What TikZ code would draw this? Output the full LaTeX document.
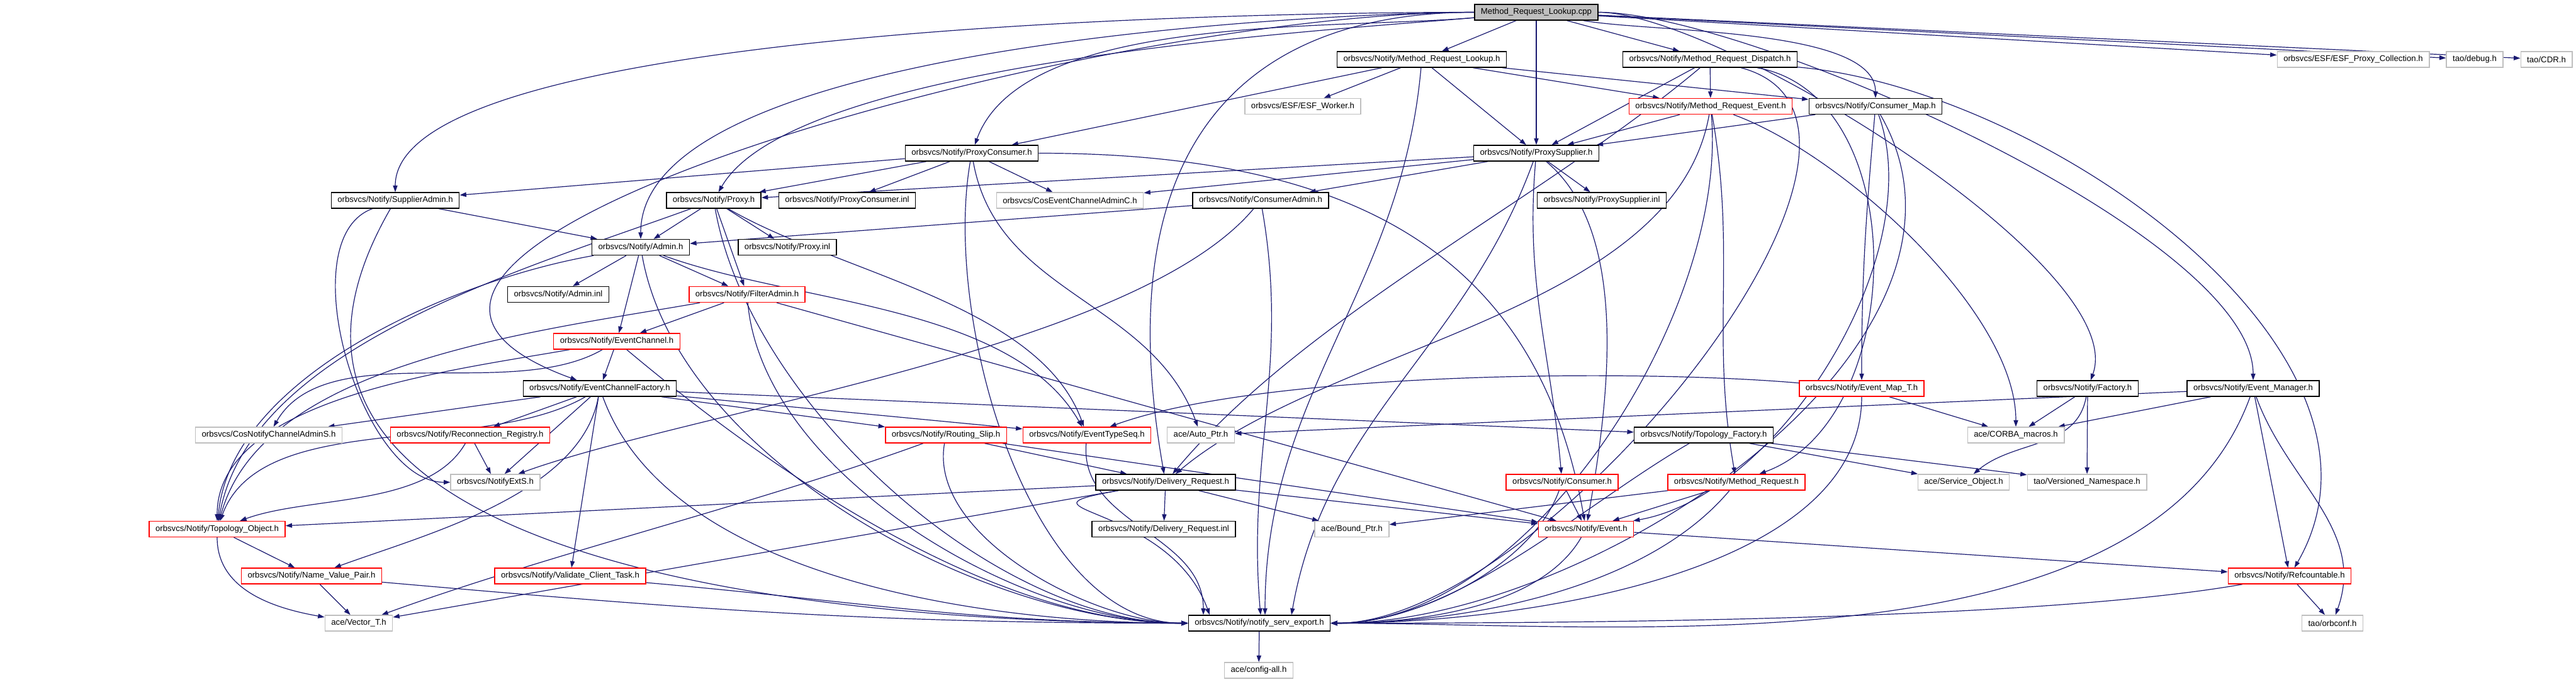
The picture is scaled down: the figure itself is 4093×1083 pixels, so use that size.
\documentclass[tikz,border=0pt]{standalone}
\usepackage{fontspec}
\setmainfont{Liberation Sans}
\usetikzlibrary{arrows.meta}
\definecolor{edgeblue}{RGB}{25,25,112}
\definecolor{extgray}{RGB}{191,191,191}
\pgfdeclarelayer{edges}
\pgfsetlayers{edges,main}

\begin{document}
\begin{tikzpicture}[x=0.25pt,y=0.25pt,
    file/.style={draw=black, fill=white, line width=0.36pt, rectangle, minimum height=6.25pt, inner xsep=2.5pt, inner ysep=0pt, font=\fontsize{3.3}{3.8}\selectfont},
    trunc/.style={file, draw=red},
    ext/.style={file, draw=extgray},
    rootfile/.style={file, fill=extgray},
    dep/.style={draw=edgeblue, line width=0.3pt, -{Triangle[length=2.6pt,width=1.8pt]}}]
          \useasboundingbox (0,0) rectangle (4093,-1083);

          % Archivos
          \node[rootfile] (root) at (2441,-19.5) {Method\_Request\_Lookup.cpp};
          \node[file] (mrl) at (2259,-94.5) {orbsvcs/Notify/Method\_Request\_Lookup.h};
          \node[file] (mrd) at (2717,-94.5) {orbsvcs/Notify/Method\_Request\_Dispatch.h};
          \node[ext] (esfpc) at (3739,-94.5) {orbsvcs/ESF/ESF\_Proxy\_Collection.h};
          \node[ext] (dbg) at (3932,-94.5) {tao/debug.h};
          \node[ext] (cdr) at (4046,-94.5) {tao/CDR.h};
          \node[ext] (esfw) at (2070,-169) {orbsvcs/ESF/ESF\_Worker.h};
          \node[trunc] (mrev) at (2718,-169) {orbsvcs/Notify/Method\_Request\_Event.h};
          \node[file] (cmap) at (2980,-169) {orbsvcs/Notify/Consumer\_Map.h};
          \node[file] (pcons) at (1544,-243.5) {orbsvcs/Notify/ProxyConsumer.h};
          \node[file] (psup) at (2441,-243.5) {orbsvcs/Notify/ProxySupplier.h};
          \node[file] (sadm) at (628,-318.5) {orbsvcs/Notify/SupplierAdmin.h};
          \node[file] (proxy) at (1134,-318.5) {orbsvcs/Notify/Proxy.h};
          \node[file] (pconsinl) at (1346,-318.5) {orbsvcs/Notify/ProxyConsumer.inl};
          \node[ext] (cosecac) at (1700,-318.5) {orbsvcs/CosEventChannelAdminC.h};
          \node[file] (cadm) at (2003,-318.5) {orbsvcs/Notify/ConsumerAdmin.h};
          \node[file] (psupinl) at (2545,-318.5) {orbsvcs/Notify/ProxySupplier.inl};
          \node[file] (admin) at (1018,-393) {orbsvcs/Notify/Admin.h};
          \node[file] (proxyinl) at (1251,-393) {orbsvcs/Notify/Proxy.inl};
          \node[file] (admininl) at (887,-468) {orbsvcs/Notify/Admin.inl};
          \node[trunc] (fadm) at (1187,-468) {orbsvcs/Notify/FilterAdmin.h};
          \node[trunc] (ec) at (980,-542.5) {orbsvcs/Notify/EventChannel.h};
          \node[file] (ecf) at (953,-617.5) {orbsvcs/Notify/EventChannelFactory.h};
          \node[trunc] (emapt) at (2958,-617.5) {orbsvcs/Notify/Event\_Map\_T.h};
          \node[file] (factory) at (3317,-617.5) {orbsvcs/Notify/Factory.h};
          \node[file] (emgr) at (3580,-617.5) {orbsvcs/Notify/Event\_Manager.h};
          \node[ext] (cosncas) at (427,-691.5) {orbsvcs/CosNotifyChannelAdminS.h};
          \node[trunc] (recreg) at (747,-691.5) {orbsvcs/Notify/Reconnection\_Registry.h};
          \node[trunc] (rslip) at (1503,-691.5) {orbsvcs/Notify/Routing\_Slip.h};
          \node[trunc] (etseq) at (1727,-691.5) {orbsvcs/Notify/EventTypeSeq.h};
          \node[ext] (autoptr) at (1908,-691.5) {ace/Auto\_Ptr.h};
          \node[file] (topof) at (2707,-691.5) {orbsvcs/Notify/Topology\_Factory.h};
          \node[ext] (corbam) at (3203,-691.5) {ace/CORBA\_macros.h};
          \node[ext] (nexts) at (787,-766.5) {orbsvcs/NotifyExtS.h};
          \node[file] (dreq) at (1852,-766.5) {orbsvcs/Notify/Delivery\_Request.h};
          \node[trunc] (consumer) at (2482,-766.5) {orbsvcs/Notify/Consumer.h};
          \node[trunc] (mreq) at (2759,-766.5) {orbsvcs/Notify/Method\_Request.h};
          \node[ext] (svcobj) at (3120,-766.5) {ace/Service\_Object.h};
          \node[ext] (vns) at (3316,-766.5) {tao/Versioned\_Namespace.h};
          \node[trunc] (topoobj) at (345,-841) {orbsvcs/Notify/Topology\_Object.h};
          \node[file] (dreqinl) at (1849,-841) {orbsvcs/Notify/Delivery\_Request.inl};
          \node[ext] (boundptr) at (2148,-841) {ace/Bound\_Ptr.h};
          \node[trunc] (event) at (2520,-841) {orbsvcs/Notify/Event.h};
          \node[trunc] (nvp) at (495,-915.5) {orbsvcs/Notify/Name\_Value\_Pair.h};
          \node[trunc] (vct) at (906,-915.5) {orbsvcs/Notify/Validate\_Client\_Task.h};
          \node[trunc] (refc) at (3638,-915.5) {orbsvcs/Notify/Refcountable.h};
          \node[ext] (vect) at (570,-990.5) {ace/Vector\_T.h};
          \node[file] (nse) at (2001,-990.5) {orbsvcs/Notify/notify\_serv\_export.h};
          \node[ext] (orbconf) at (3706,-990.5) {tao/orbconf.h};
          \node[ext] (cfg) at (2000,-1065.5) {ace/config-all.h};

          % Inclusiones
          \begin{pgfonlayer}{edges}
          \draw[dep] (root) -- (mrl);
          \draw[dep] (root) -- (mrd);
          \draw[dep] (root) -- (psup);
          \draw[dep] (root) to[out=-10,in=90,looseness=0.6] (cmap);
          \draw[dep] (root) -- (esfpc);
          \draw[dep] (root) -- (dbg);
          \draw[dep] (root) -- (cdr);
          \draw[dep] (root) to[out=0,in=90,looseness=0.5] (emgr);
          \draw[dep] (root) to[out=0,in=70,looseness=0.5] (factory);
          \draw[dep] (root) to[out=185,in=70,looseness=0.7] (pcons);
          \draw[dep] (root) to[out=185,in=60,looseness=0.5] (proxy);
          \draw[dep] (root) to[out=180,in=90,out looseness=0.3,in looseness=0.6] (admin);
          \draw[dep] (root) to[out=180,in=90,looseness=0.4] (sadm);
          \draw[dep] (root) to[out=180,in=160,looseness=1] (ecf);
          \draw[dep] (root) to[out=180,in=100,out looseness=1,in looseness=1.6] (dreq);

          \draw[dep] (mrl) -- (esfw);
          \draw[dep] (mrl) -- (psup);
          \draw[dep] (mrl) -- (mrev);
          \draw[dep] (mrl) -- (cmap);
          \draw[dep] (mrl) -- (pcons);
          \draw[dep] (mrl) to[out=-95,in=90] ([xshift=2.25pt]nse.north);

          \draw[dep] (mrd) -- (psup);
          \draw[dep] (mrd) -- (mrev);
          \draw[dep] (mrd) to[out=-140,in=50,looseness=0.8] (dreq);
          \draw[dep] (mrd) to[out=-5,in=60,looseness=0.9] (refc);
          \draw[dep] (mrd) to[out=-10,in=20,looseness=1] (mreq);
          \draw[dep] (mrd) to[out=-15,in=0,looseness=0.8] (nse);

          \draw[dep] (mrev) -- (psup);
          \draw[dep] (mrev) to[out=-100,in=40,looseness=0.8] (dreq);
          \draw[dep] (mrev) to[out=-80,in=100] (mreq);
          \draw[dep] (mrev) to[out=-20,in=90,looseness=0.7] (corbam);
          \draw[dep] (mrev) to[out=-85,in=0,looseness=0.8] (nse);

          \draw[dep] (cmap) -- (psup);
          \draw[dep] (cmap) to[out=-95,in=90] (emapt);
          \draw[dep] (cmap) to[out=-70,in=10,looseness=0.8] (event);
          \draw[dep] (cmap) to[out=-60,in=0,looseness=0.9] (nse);

          \draw[dep] (pcons) -- (sadm);
          \draw[dep] (pcons) -- (proxy);
          \draw[dep] (pcons) -- (pconsinl);
          \draw[dep] (pcons) -- (cosecac);
          \draw[dep] (pcons) to[out=-80,in=110] (autoptr);
          \draw[dep] (pcons) to[out=0,in=100,out looseness=1.3,in looseness=1] (event);
          \draw[dep] (pcons) to[out=-100,in=180,looseness=0.8] (nse);

          \draw[dep] (psup) -- (proxy);
          \draw[dep] (psup) -- (cosecac);
          \draw[dep] (psup) -- (cadm);
          \draw[dep] (psup) -- (psupinl);
          \draw[dep] (psup) to[out=-95,in=95] (consumer);
          \draw[dep] (psup) to[out=-40,in=80,looseness=0.8] (event);
          \draw[dep] (psup) to[out=-110,in=80] ([xshift=12.75pt]nse.north);

          \draw[dep] (sadm) -- (admin);
          \draw[dep] (sadm) to[out=-160,in=180,looseness=0.8] (nexts);
          \draw[dep] (sadm) to[out=-120,in=180,out looseness=1.3,in looseness=0.6] (nse);

          \draw[dep] (cadm) -- (admin);
          \draw[dep] (cadm) to[out=-130,in=20,looseness=0.6] (nexts);
          \draw[dep] (cadm) to[out=-80,in=95] ([xshift=0.5pt]nse.north);

          \draw[dep] (proxy) -- (admin);
          \draw[dep] (proxy) -- (proxyinl);
          \draw[dep] (proxy) -- (fadm);
          \draw[dep] (proxy) to[out=-160,in=80,looseness=0.8] (topoobj);
          \draw[dep] (proxy) to[out=-30,in=110,looseness=0.8] (etseq);
          \draw[dep] (proxy) to[out=-80,in=180,looseness=0.8] (nse);

          \draw[dep] (admin) -- (admininl);
          \draw[dep] (admin) -- (ec);
          \draw[dep] (admin) -- (fadm);
          \draw[dep] (admin) to[out=-170,in=85,looseness=0.8] (topoobj);
          \draw[dep] (admin) to[out=-20,in=120,looseness=0.8] (etseq);
          \draw[dep] (admin) to[out=-80,in=180,looseness=0.8] (nse);

          \draw[dep] (fadm) -- (ec);
          \draw[dep] (fadm) to[out=-170,in=75,looseness=0.8] (topoobj);
          \draw[dep] (fadm) -- (event);
          \draw[dep] (fadm) to[out=-85,in=180,looseness=0.8] (nse);

          \draw[dep] (ec) -- (ecf);
          \draw[dep] (ec) to[out=-150,in=60,looseness=0.8] (cosncas);
          \draw[dep] (ec) to[out=-170,in=90,looseness=0.8] (topoobj);
          \draw[dep] (ec) to[out=-40,in=180,looseness=0.8] (nse);

          \draw[dep] (ecf) -- (cosncas);
          \draw[dep] (ecf) -- (recreg);
          \draw[dep] (ecf) -- (nexts);
          \draw[dep] (ecf) to[out=-150,in=70,looseness=0.8] (topoobj);
          \draw[dep] (ecf) to[out=-100,in=20,looseness=0.8] (nvp);
          \draw[dep] (ecf) -- (vct);
          \draw[dep] (ecf) -- (rslip);
          \draw[dep] (ecf) -- (etseq);
          \draw[dep] (ecf) -- (topof);
          \draw[dep] (ecf) to[out=-70,in=180,looseness=0.8] (nse);

          \draw[dep] (recreg) -- (nexts);
          \draw[dep] (recreg) to[out=-120,in=20,looseness=0.8] (topoobj);

          \draw[dep] (topoobj) -- (nvp);
          \draw[dep] (topoobj) to[out=-90,in=170] (vect);
          \draw[dep] (nvp) -- (vect);
          \draw[dep] (nvp) to[out=-5,in=180] (nse);
          \draw[dep] (vct) to[out=-5,in=180] (nse);

          \draw[dep] (rslip) -- (dreq);
          \draw[dep] (rslip) -- (event);
          \draw[dep] (rslip) to[out=-160,in=20,looseness=0.8] (vect);
          \draw[dep] (rslip) to[out=-100,in=180,looseness=0.8] (nse);
          \draw[dep] (etseq) to[out=-95,in=90] ([xshift=-22.25pt]nse.north);

          \draw[dep] (dreq) -- (dreqinl);
          \draw[dep] (dreq) -- (boundptr);
          \draw[dep] (dreq) -- (event);
          \draw[dep] (dreq) -- (topoobj);
          \draw[dep] (dreq) -- (vect);
          \draw[dep] (dreq) to[out=-170,in=110,looseness=2] ([xshift=-19.75pt]nse.north);

          \draw[dep] (consumer) -- (event);
          \draw[dep] (consumer) to[out=-110,in=0,looseness=0.8] (nse);
          \draw[dep] (mreq) -- (event);
          \draw[dep] (mreq) -- (boundptr);
          \draw[dep] (mreq) to[out=-130,in=0,looseness=0.8] (nse);
          \draw[dep] (event) -- (refc);
          \draw[dep] (event) to[out=-120,in=0,looseness=0.8] (nse);

          \draw[dep] (topof) -- (svcobj);
          \draw[dep] (topof) -- (vns);
          \draw[dep] (topof) to[out=-150,in=0,looseness=0.8] (nse);
          \draw[dep] (emapt) to[out=175,in=20,looseness=0.6] (etseq);
          \draw[dep] (emapt) -- (corbam);
          \draw[dep] (emapt) to[out=-90,in=0,looseness=0.8] (nse);
          \draw[dep] (factory) -- (corbam);
          \draw[dep] (factory) to[out=-100,in=40] (svcobj);
          \draw[dep] (factory) -- (vns);
          \draw[dep] (emgr) -- (corbam);
          \draw[dep] (emgr) -- (autoptr);
          \draw[dep] (emgr) -- (refc);
          \draw[dep] (emgr) to[out=-70,in=70] (orbconf);
          \draw[dep] (emgr) to[out=-110,in=0,looseness=0.8] (nse);
          \draw[dep] (refc) -- (orbconf);
          \draw[dep] (refc) to[out=190,in=0,looseness=0.6] (nse);
          \draw[dep] (nse) -- (cfg);
          \end{pgfonlayer}
        \end{tikzpicture}
\end{document}
